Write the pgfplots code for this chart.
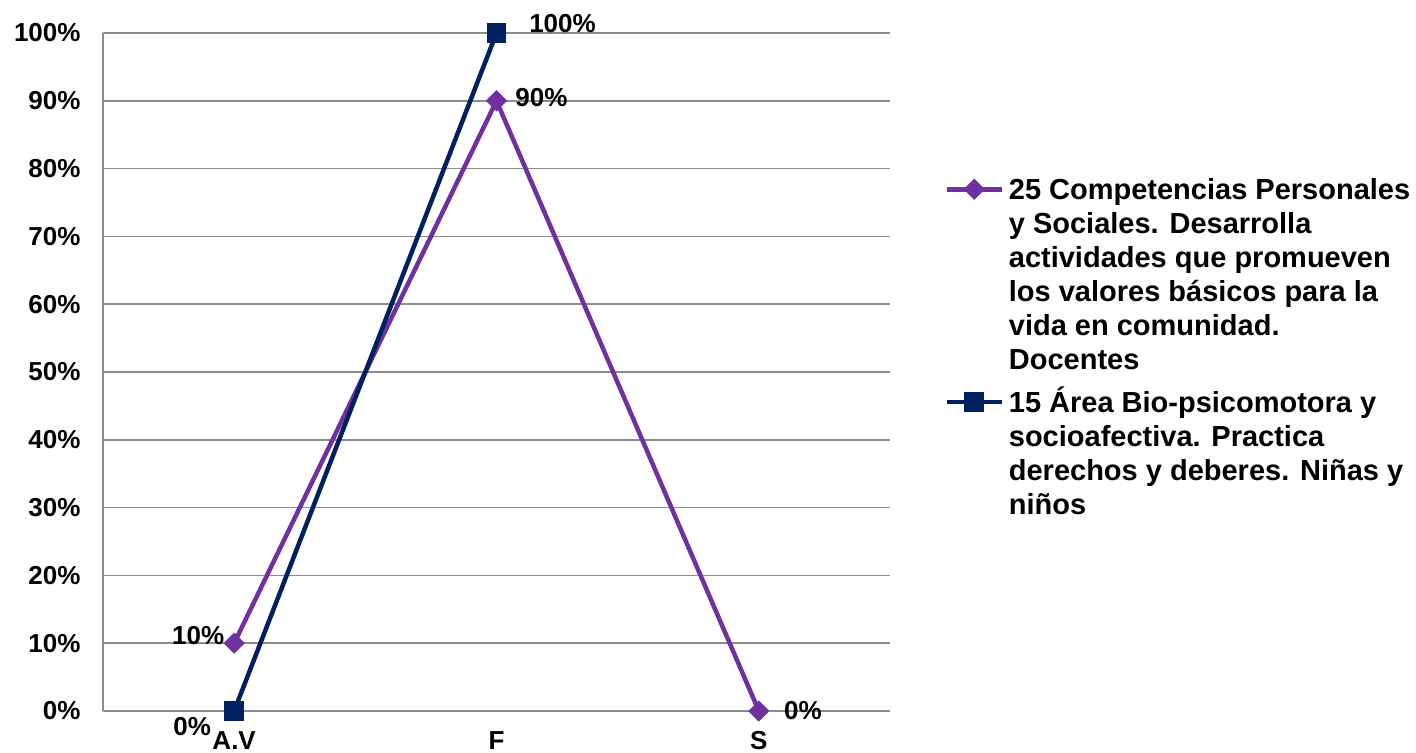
\documentclass[border=0pt]{standalone}
\usepackage{pgfplots}
\pgfplotsset{compat=1.18}
\usepackage{fontspec}
\setmainfont{Liberation Sans}
\definecolor{cpurple}{HTML}{7030A0}
\definecolor{cnavy}{HTML}{002060}
\definecolor{cgrid}{HTML}{8C8C8C}
\newcommand\ls{\rule[-5.1pt]{0pt}{17pt}}
\newcommand\lsx{\rule[-8.6pt]{0pt}{20.5pt}}
\pgfplotsset{
  gap/.style={legend image code/.code={\path[draw=none,fill=none] (0pt,-5.1pt) -- (0pt,11.9pt);}},
  gapx/.style={legend image code/.code={\path[draw=none,fill=none] (0pt,-8.6pt) -- (0pt,11.9pt);}},
}

\pgfplotstableread{
x y dx dy
0 10 -18 4
1 90 22.5 1.5
2 0 22 0
}\seriesA
\pgfplotstableread{
x y dx dy
0 0 -21 -8
1 100 33 4.5
}\seriesB

\begin{document}
\begin{tikzpicture}
\path[use as bounding box] (0,0) rectangle (708pt,376pt);
\begin{axis}[
  at={(51.5pt,20.5pt)}, anchor=south west,
  scale only axis, width=393.5pt, height=339pt,
  xmin=-0.5, xmax=2.5, ymin=0, ymax=100,
  clip=false,
  xtick={0,1,2}, xticklabels={A.V,F,S},
  ytick={0,10,...,100},
  yticklabel={\pgfmathprintnumber{\tick}\%},
  /pgf/number format/assume math mode=true,
  tick style={draw=none},
  ymajorgrids, grid style={cgrid, line width=0.8pt},
  axis x line*=bottom, axis y line*=left,
  axis line style={cgrid, line width=0.8pt},
  ticklabel style={font=\fontsize{13}{15}\selectfont\bfseries},
  yticklabel style={xshift=-7.7pt},
  xticklabel style={yshift=-6.7pt},
  legend style={at={(axis description cs:1.0686,0.7905)}, anchor=north west,
    draw=none, fill=none, inner sep=0pt, column sep=2.5pt, row sep=0pt,
    font=\fontsize{14.5}{17}\selectfont\bfseries,
    nodes={inner sep=0pt}, cells={anchor=base west}},
  legend image code/.code={\path[draw=none,fill=none] (0pt,-5.1pt) -- (0pt,11.9pt);\draw[mark repeat=2,mark phase=2,#1] plot coordinates {(0pt,5pt)(13.75pt,5pt)(27.5pt,5pt)};},
  nodes near coords={\pgfmathprintnumber{\pgfplotspointmeta}\%},
  point meta=y,
  visualization depends on={\thisrow{dx} \as \dx},
  visualization depends on={\thisrow{dy} \as \dy},
  every node near coord/.append style={anchor=center, xshift=\dx pt, yshift=\dy pt,
    text=black, font=\fontsize{13}{15}\selectfont\bfseries, inner sep=0pt},
]
\addplot[cpurple, line width=2.25pt, mark=square*,
  mark options={rotate=45, mark size=3.5pt, line width=0.5pt, solid, fill=cpurple}]
  table[x=x, y=y] {\seriesA};
\addlegendentry{\ls 25 Competencias Personales}
\addlegendimage{gap}\addlegendentry{\ls y Sociales. Desarrolla}
\addlegendimage{gap}\addlegendentry{\ls actividades que promueven}
\addlegendimage{gap}\addlegendentry{\ls los valores básicos para la}
\addlegendimage{gap}\addlegendentry{\ls vida en comunidad.}
\addlegendimage{gapx}\addlegendentry{\lsx Docentes}
\addplot[cnavy, line width=2.25pt, mark=square*,
  mark options={mark size=4.6pt, line width=0.5pt, solid, fill=cnavy}]
  table[x=x, y=y] {\seriesB};
\addlegendentry{\ls 15 Área Bio-psicomotora y}
\addlegendimage{gap}\addlegendentry{\ls socioafectiva. Practica}
\addlegendimage{gap}\addlegendentry{\ls derechos y deberes. Niñas y}
\addlegendimage{gap}\addlegendentry{\ls niños}
\end{axis}
\end{tikzpicture}
\end{document}
